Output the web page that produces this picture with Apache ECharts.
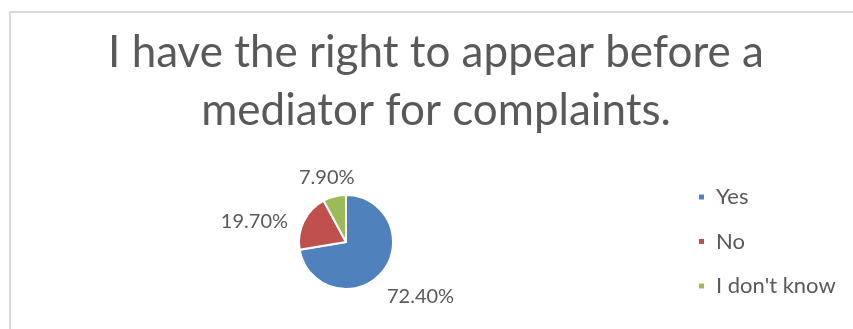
<!DOCTYPE html>
<html>
<head>
<meta charset="utf-8">
<style>
  html, body { margin: 0; padding: 0; background: #ffffff; }
  #chart { width: 853px; height: 329px; }
</style>
<script src="https://cdn.jsdelivr.net/npm/echarts@6/dist/echarts.min.js"></script>
</head>
<body>
<div id="chart"></div>
<script>
// Survey answers and their shares (percent)
const categories = ['Yes', 'No', "I don't know"];
const shares = [72.4, 19.7, 7.9];
const titleLines = ['I have the right to appear before a', 'mediator for complaints.'];

const sliceColors = ['#4F81BD', '#C0504D', '#9BBB59'];
const textGray = '#595959';
const fontFamily = 'Lato, "Open Sans", sans-serif';

// Small nudges that move each percentage label into place beside its slice
const labelNudges = [[-9, 16], [0, 6], [28, -7]];

const chart = echarts.init(document.getElementById('chart'), null, { renderer: 'canvas' });

chart.setOption({
  animation: false,
  backgroundColor: '#ffffff',
  color: sliceColors,
  title: {
    text: titleLines.join('\n'),
    left: 436,
    top: 24,
    padding: 0,
    textAlign: 'center',
    textStyle: {
      fontFamily: fontFamily,
      fontWeight: 'normal',
      fontSize: 44,
      lineHeight: 58,
      color: textGray
    }
  },
  legend: {
    orient: 'vertical',
    left: 697,
    top: 186,
    padding: 0,
    itemWidth: 7,
    itemHeight: 7,
    itemGap: 22.5,
    icon: 'rect',
    data: categories,
    textStyle: {
      fontFamily: fontFamily,
      fontSize: 22,
      lineHeight: 22,
      color: textGray,
      padding: [0, 0, 0, 6]
    }
  },
  graphic: [
    { type: 'line', shape: { x1: 10, y1: 11, x2: 10, y2: 329 }, style: { stroke: '#d9d9d9', lineWidth: 2 } },
    { type: 'line', shape: { x1: 9, y1: 12, x2: 853, y2: 12 }, style: { stroke: '#d9d9d9', lineWidth: 2 } }
  ],
  series: [{
    type: 'pie',
    center: [346, 242],
    radius: 47,
    startAngle: 90,
    clockwise: true,
    avoidLabelOverlap: false,
    itemStyle: { borderColor: '#ffffff', borderWidth: 2 },
    label: {
      show: true,
      position: 'outside',
      distance: 4,
      fontFamily: fontFamily,
      fontSize: 20,
      color: textGray,
      formatter: p => p.value.toFixed(2) + '%'
    },
    labelLine: { show: false, length: 12, length2: 0 },
    labelLayout: p => ({ dx: labelNudges[p.dataIndex][0], dy: labelNudges[p.dataIndex][1] }),
    emphasis: { disabled: true },
    data: categories.map((name, i) => ({ name: name, value: shares[i] }))
  }]
});
</script>
</body>
</html>
